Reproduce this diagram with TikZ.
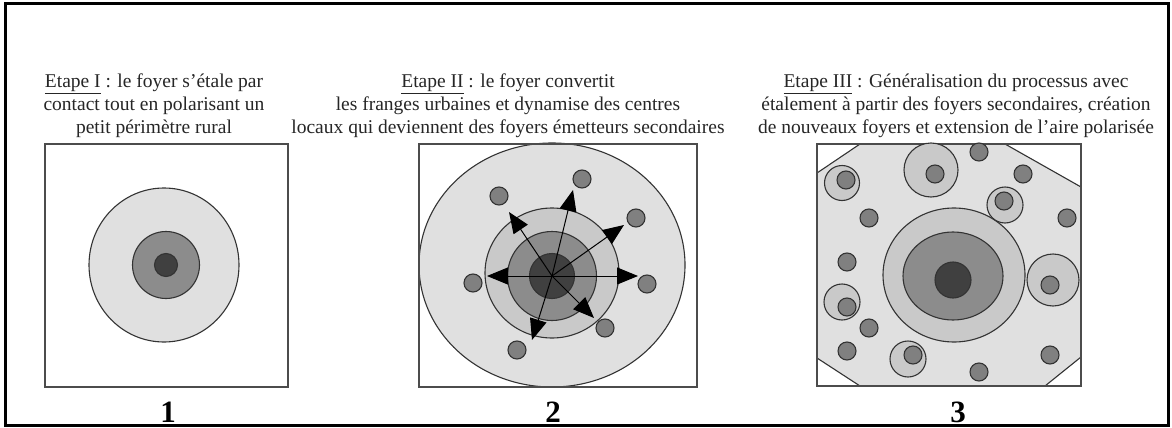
\documentclass[tikz,border=0pt]{standalone}
\usepackage{fontspec}
\setmainfont{Liberation Serif}
\usetikzlibrary{shapes.geometric,arrows.meta}
\definecolor{glight}{gray}{0.88}
\definecolor{ghalo}{gray}{0.79}
\definecolor{gmid}{gray}{0.55}
\definecolor{gdark}{gray}{0.25}
\definecolor{gdot}{gray}{0.5}

\begin{document}
\begin{tikzpicture}[x=1pt,y=-1pt,
          disc/.style={circle,draw=black!80,line width=1.1pt,inner sep=0pt},
          oval/.style={ellipse,draw=black!80,line width=1.1pt,inner sep=0pt},
          dot/.style={disc,fill=gdot,minimum size=18pt},
          halo/.style={disc,fill=ghalo},
          legend/.style={align=center,inner sep=0pt,anchor=north,text=black!85,
            font=\fontsize{19.5}{23}\selectfont},
          num/.style={anchor=base,font=\fontsize{31}{31}\selectfont\bfseries},
          frame/.style={draw=black!70,line width=1.2pt},
          flow/.style={line width=1pt,-{Triangle[length=21pt,width=17pt]}}
            ]
            \useasboundingbox (0,0) rectangle (1172,428);
            \draw[line width=3pt] (5,4) rectangle (1168,425);

            \node[legend] (t1) at (154,74) {\underline{Etape I} : le foyer s’étale par\\contact tout en polarisant un\\petit périmètre rural};
            \node[legend] (t2) at (508,74) {\underline{Etape II} : le foyer convertit\\les franges urbaines et dynamise des centres\\locaux qui deviennent des foyers émetteurs secondaires};
            \node[legend] (t3) at (956,74) {\underline{Etape III} : Généralisation du processus avec\\étalement à partir des foyers secondaires, création\\de nouveaux foyers et extension de l’aire polarisée};

            \draw[frame] (45,144) rectangle (288,387);
            \node[oval,fill=glight,minimum width=150pt,minimum height=154pt] (a1) at (164,265) {};
            \node[disc,fill=gmid,minimum size=67pt] (b1) at (166,265) {};
            \node[disc,fill=gdark,minimum size=23pt] (c1) at (166,265) {};
            \node[num] (n1) at (168,422) {1};

            \node[oval,fill=glight,minimum width=266pt,minimum height=244pt] (a2) at (552,265) {};
            \draw[frame] (419,144) rectangle (697,387);
            \node[oval,fill=ghalo,minimum width=134pt,minimum height=130pt] (r2) at (552,273) {};
            \node[disc,fill=gmid,minimum size=89pt] (b2) at (552,276) {};
            \node[disc,fill=gdark,minimum size=45pt] (c2) at (552,276) {};
            \foreach \x/\y [count=\i] in {473/283,647/284,499/196,582/179,636/218,605/328,517/350}
              \node[dot] (s\i) at (\x,\y) {};
            \foreach \x/\y [count=\i] in {487/276,638/276,509/212,573/190,624/225,594/318,532/340}
              \coordinate (e\i) at (\x,\y);
            \foreach \i in {1,...,7}
              \draw[flow] (c2.center) -- (e\i);
            \node[num] (n2) at (553,422) {2};

            \draw[fill=glight,draw=black!80,line width=1.1pt] (817,173) -- (860,144) -- (1005,144) -- (1081,187)
              -- (1081,357) -- (1045,386) -- (860,386) -- (817,358) -- cycle;
            \draw[frame] (817,144) rectangle (1081,386);
            \node[oval,fill=ghalo,minimum width=142pt,minimum height=134pt] (r3) at (954,275) {};
            \node[oval,fill=gmid,minimum width=100pt,minimum height=88pt] (b3) at (953,276) {};
            \node[disc,fill=gdark,minimum size=36pt] (c3) at (953,280) {};
            \foreach \x/\y/\d [count=\i] in {842/183/35,931/170/54,1005/205/36,842/302/36,908/359/36,1053/280/52}
              \node[halo,minimum size=\d pt] (h\i) at (\x,\y) {};
            \foreach \x/\y [count=\i] in {846/180,935/174,979/152,1023/174,1004/201,1067/218,869/218,847/262,
                847/307,869/328,847/351,913/355,979/372,1050/355,1050/285}
              \node[dot] (f\i) at (\x,\y) {};
            \node[num] (n3) at (958,422) {3};
            \end{tikzpicture}
\end{document}
